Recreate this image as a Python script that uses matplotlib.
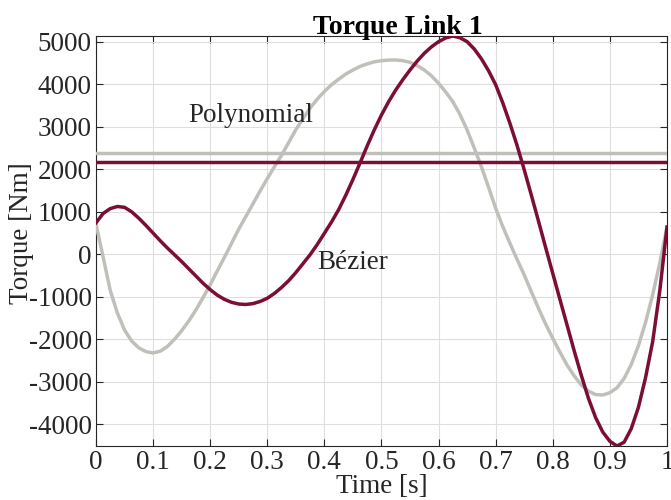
import matplotlib
matplotlib.use("Agg")
import matplotlib.pyplot as plt
from matplotlib.ticker import FixedLocator

plt.rcParams['font.family'] = ['Liberation Serif', 'DejaVu Serif']
plt.rcParams['axes.unicode_minus'] = False

# Bézier trajectory torque
time_bez = [0.000, 0.0125, 0.025, 0.0375, 0.050, 0.0625, 0.075, 0.0875, 0.100, 0.1125,
            0.125, 0.1375, 0.150, 0.1625, 0.175, 0.1875, 0.200, 0.2125, 0.225, 0.2375,
            0.250, 0.2625, 0.275, 0.2875, 0.300, 0.3125, 0.325, 0.3375, 0.350, 0.3625,
            0.375, 0.3875, 0.400, 0.4125, 0.425, 0.4375, 0.450, 0.4625, 0.475, 0.4875,
            0.500, 0.5125, 0.525, 0.5375, 0.550, 0.5625, 0.575, 0.5875, 0.600, 0.6125,
            0.625, 0.6375, 0.650, 0.6625, 0.675, 0.6875, 0.700, 0.7125, 0.725, 0.7375,
            0.750, 0.7625, 0.775, 0.7875, 0.800, 0.8125, 0.825, 0.8375, 0.850, 0.8625,
            0.875, 0.8875, 0.900, 0.9125, 0.925, 0.9375, 0.950, 0.9625, 0.975, 0.9875,
            1.000]
torque_bez = [740, 960, 1075, 1125, 1105, 1000, 850, 680, 500, 320,
              150, -10, -170, -340, -510, -680, -830, -960, -1060, -1130,
              -1170, -1180, -1160, -1110, -1035, -920, -780, -620, -430, -220,
              -10, 230, 494, 760, 1050, 1390, 1760, 2150, 2550, 2930,
              3278, 3590, 3866, 4110, 4336, 4545, 4729, 4880, 5003, 5090,
              5136, 5095, 5003, 4830, 4600, 4320, 3990, 3560, 3080, 2560,
              1990, 1390, 780, 160, -450, -1060, -1664, -2270, -2850, -3390,
              -3840, -4180, -4400, -4510, -4420, -4100, -3600, -2900, -2050, -850,
              640]

# Polynomial trajectory torque
time_poly = [0.000, 0.0125, 0.025, 0.0375, 0.050, 0.0625, 0.075, 0.0875, 0.100, 0.1125,
             0.125, 0.1375, 0.150, 0.1625, 0.175, 0.1875, 0.200, 0.2125, 0.225, 0.2375,
             0.250, 0.2625, 0.275, 0.2875, 0.300, 0.3125, 0.325, 0.3375, 0.350, 0.3625,
             0.375, 0.3875, 0.400, 0.4125, 0.425, 0.4375, 0.450, 0.4625, 0.475, 0.4875,
             0.500, 0.5125, 0.525, 0.5375, 0.550, 0.5625, 0.575, 0.5875, 0.600, 0.6125,
             0.625, 0.6375, 0.650, 0.6625, 0.675, 0.6875, 0.700, 0.7125, 0.725, 0.7375,
             0.750, 0.7625, 0.775, 0.7875, 0.800, 0.8125, 0.825, 0.8375, 0.850, 0.8625,
             0.875, 0.8875, 0.900, 0.9125, 0.925, 0.9375, 0.950, 0.9625, 0.975, 0.9875,
             1.000]
torque_poly = [713, -60, -850, -1380, -1780, -2040, -2200, -2290, -2320, -2280,
               -2170, -2000, -1800, -1570, -1310, -1020, -720, -390, -70, 260,
               590, 890, 1190, 1490, 1780, 2060, 2330, 2630, 2930, 3190,
               3440, 3650, 3830, 3990, 4120, 4240, 4336, 4420, 4480, 4530,
               4555, 4570, 4572, 4555, 4518, 4440, 4336, 4200, 4024, 3820,
               3591, 3290, 2925, 2500, 2061, 1580, 1082, 650, 259, -120,
               -487, -880, -1271, -1640, -1976, -2300, -2605, -2860, -3075, -3220,
               -3300, -3310, -3256, -3140, -2920, -2590, -2150, -1600, -950, -200,
               640]

# RMS levels (horizontal lines)
rms_bez = 2165
rms_poly = 2376

x_ticks = [0, 0.1, 0.2, 0.3, 0.4, 0.5, 0.6, 0.7, 0.8, 0.9, 1]
x_tick_labels = ['0', '0.1', '0.2', '0.3', '0.4', '0.5', '0.6', '0.7', '0.8', '0.9', '1']
y_ticks = [-4000, -3000, -2000, -1000, 0, 1000, 2000, 3000, 4000, 5000]

maroon = '#7c0d36'
gray = '#c0c0ba'
txt = '#262626'

fig = plt.figure(figsize=(6.71, 5.0), dpi=100)
ax = fig.add_axes([0.143, 0.108, 0.851, 0.820])

ax.plot(time_poly, torque_poly, color=gray, lw=2.5, zorder=3)
ax.plot(time_bez, torque_bez, color=maroon, lw=2.5, zorder=4)
ax.axhline(rms_poly, color=gray, lw=2.5, zorder=3)
ax.axhline(rms_bez, color=maroon, lw=2.5, zorder=4)

ax.text(0.161, 3120, 'Polynomial', fontsize=19.5, color=txt, va='baseline', ha='left', zorder=5)
ax.text(0.388, -346, 'Bézier', fontsize=19.5, color=txt, va='baseline', ha='left', zorder=5)

ax.set_xlim(0, 1)
ax.set_ylim(-4510, 5136)
ax.xaxis.set_major_locator(FixedLocator(x_ticks))
ax.set_xticklabels(x_tick_labels)
ax.yaxis.set_major_locator(FixedLocator(y_ticks))
ax.set_yticklabels([str(v) for v in y_ticks])

ax.grid(True, color='#dedede', lw=0.8)
ax.set_axisbelow(True)
ax.tick_params(direction='in', top=True, right=True, length=5, width=0.8,
               labelsize=19.5, colors=txt, pad=3)
for s in ax.spines.values():
    s.set_color(txt)
    s.set_linewidth(0.8)

ax.set_title('Torque Link 1', fontsize=20, fontweight='bold', x=0.529, pad=1.5)
ax.set_xlabel('Time [s]', fontsize=19.5, color=txt)
ax.xaxis.label.set_va('center')
ax.xaxis.set_label_coords(0.5, -0.098)
ax.set_ylabel('Torque [Nm]', fontsize=19.5, color=txt)
ax.yaxis.label.set_va('center')
ax.yaxis.set_label_coords(-0.13, 0.52)

fig.savefig('out.png', dpi=100)
